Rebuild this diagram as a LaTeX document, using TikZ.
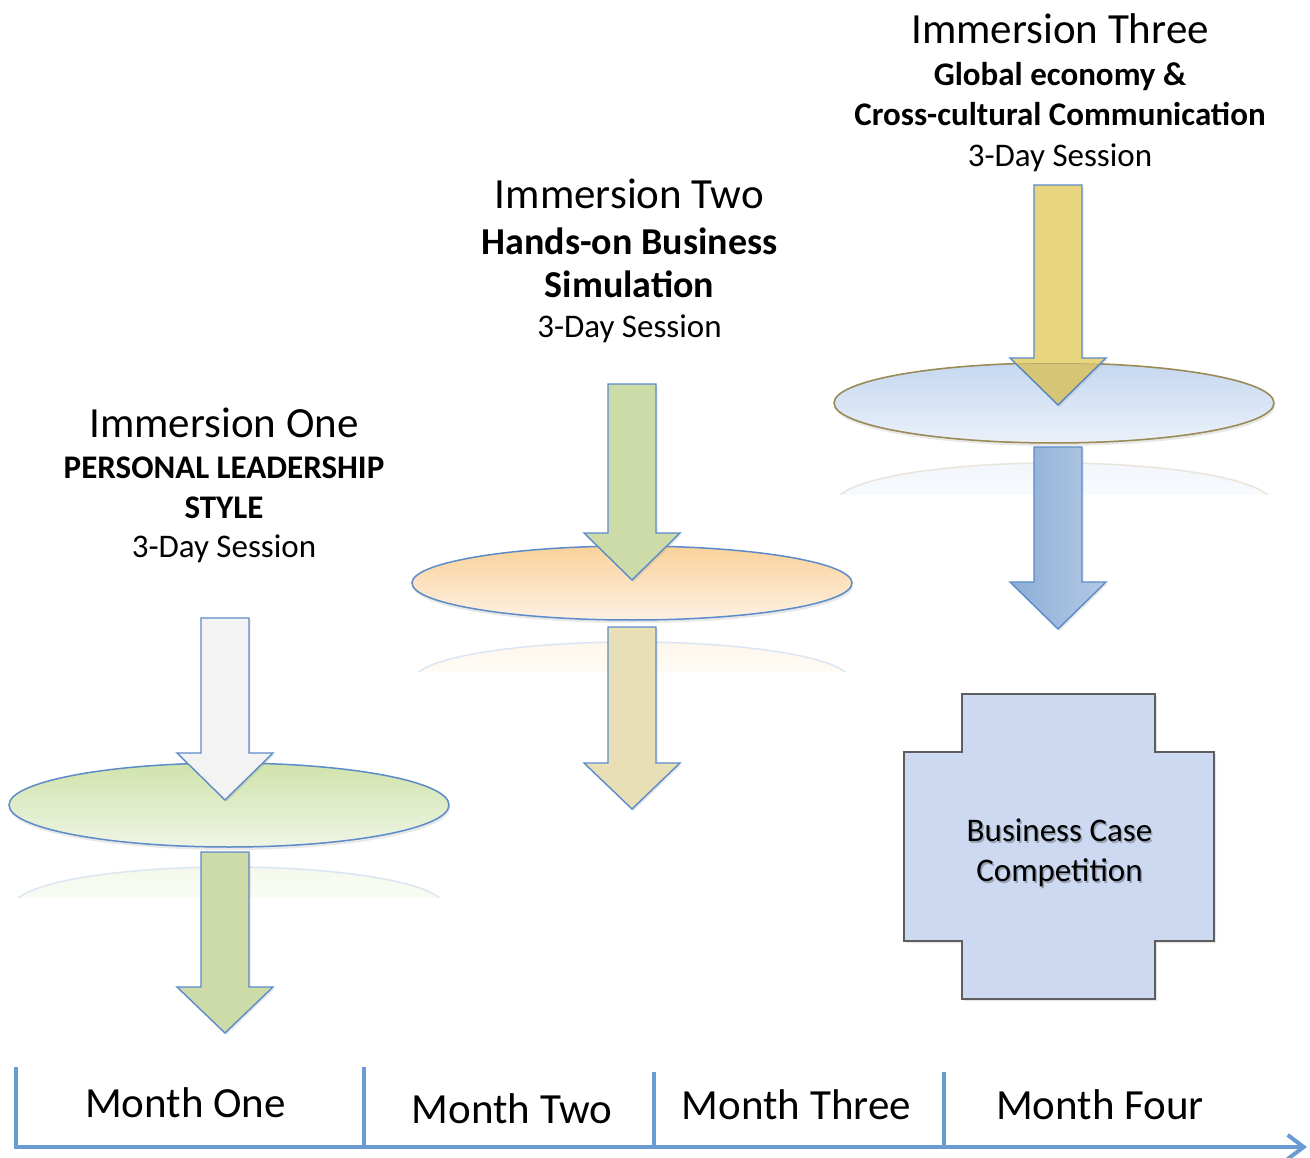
\documentclass[tikz,border=0pt]{standalone}
\usepackage{fontspec}
\setmainfont{Carlito}
\usetikzlibrary{arrows.meta,shadows}

\definecolor{lineblue}{HTML}{5B8BC9}
\definecolor{axisblue}{HTML}{6A9BD2}
\definecolor{olivegold}{HTML}{9A8A55}
\definecolor{palegray}{HTML}{F3F3F3}
\definecolor{sage}{HTML}{CCDBA8}
\definecolor{sand}{HTML}{E8DFB2}
\definecolor{straw}{HTML}{E8D580}
\definecolor{steelA}{HTML}{8DAED6}
\definecolor{steelB}{HTML}{B3C9E5}
\definecolor{greentop}{HTML}{D0E3AB}
\definecolor{greenbot}{HTML}{EFF5E6}
\definecolor{orangetop}{HTML}{FAD29A}
\definecolor{orangebot}{HTML}{FDF1E4}
\definecolor{bluetop}{HTML}{C5D8F0}
\definecolor{bluebot}{HTML}{EBF1FA}
\definecolor{crossfill}{HTML}{CDD9F0}
\definecolor{crossline}{HTML}{5E5E5E}

\tikzset{
  blockarrow/.style={draw=lineblue, line width=1.4pt, line join=miter,
    drop shadow={opacity=0.18, shadow xshift=1.5pt, shadow yshift=-2pt}},
  disc/.style={line width=1.5pt,
    drop shadow={opacity=0.18, shadow xshift=1pt, shadow yshift=-3pt}},
  glint/.style={line width=1.5pt, shading=axis, bottom color=white},
  immhead/.style={anchor=base, font=\fontsize{43}{50}\selectfont},
  topic/.style={anchor=base, font=\bfseries\fontsize{33}{40}\selectfont},
  bigtopic/.style={anchor=base, font=\bfseries\fontsize{38}{46}\selectfont},
  session/.style={anchor=base, font=\fontsize{33}{40}\selectfont},
  month/.style={anchor=base, font=\fontsize{43}{50}\selectfont},
  monthtick/.style={draw=axisblue, line width=4pt},
}

\begin{document}
\begin{tikzpicture}[x=1pt,y=-1pt]
\useasboundingbox (0,0) rectangle (1310,1158);
\fill[white] (0,0) rectangle (1310,1158);

% immersion one
\node[immhead] (imm1) at (224,437) {Immersion One};
\node[topic] (imm1a) at (224,478) {PERSONAL LEADERSHIP};
\node[topic] (imm1b) at (224,518) {STYLE};
\node[session] (imm1c) at (224,557) {3-Day Session};
\begin{scope}
\clip (0,860) rectangle (460,897);
\draw[glint, draw=lineblue!22, top color=greentop!22] (229,906) ellipse [x radius=215pt, y radius=39pt];
\end{scope}
\draw[blockarrow, fill=sage] (201,852) -- (249,852) -- (249,987) -- (273,987) -- (225,1033) -- (177,987) -- (201,987) -- cycle;
\draw[disc, draw=lineblue, top color=greentop, bottom color=greenbot] (229,805) ellipse [x radius=220pt, y radius=42pt];
\draw[blockarrow, fill=palegray] (201,618) -- (249,618) -- (249,753) -- (273,753) -- (225,800) -- (177,753) -- (201,753) -- cycle;

% immersion two
\node[immhead] (imm2) at (629.5,209) {Immersion Two};
\node[bigtopic] (imm2a) at (629.5,255) {Hands-on Business};
\node[bigtopic] (imm2b) at (629.5,298) {Simulation};
\node[session] (imm2c) at (629.5,338) {3-Day Session};
\begin{scope}
\clip (400,636) rectangle (860,671);
\draw[glint, draw=lineblue!22, top color=orangetop!18] (632,680) ellipse [x radius=218pt, y radius=38pt];
\end{scope}
\draw[blockarrow, fill=sand, fill opacity=0.9] (608,627) -- (656,627) -- (656,763) -- (680,763) -- (632,809) -- (584,763) -- (608,763) -- cycle;
\draw[disc, draw=lineblue, top color=orangetop, bottom color=orangebot] (632,583) ellipse [x radius=220pt, y radius=37pt];
\draw[blockarrow, fill=sage] (608,384) -- (656,384) -- (656,533) -- (680,533) -- (632,580) -- (584,533) -- (608,533) -- cycle;

% immersion three
\node[immhead] (imm3) at (1060,44) {Immersion Three};
\node[topic] (imm3a) at (1060,86) {Global economy \&};
\node[topic] (imm3b) at (1060,126) {Cross-cultural Communication};
\node[session] (imm3c) at (1060,167) {3-Day Session};
\begin{scope}
\clip (820,456) rectangle (1290,494);
\draw[glint, draw=olivegold!22, top color=bluetop!22] (1054,503) ellipse [x radius=218pt, y radius=40pt];
\end{scope}
\draw[blockarrow, left color=steelA, right color=steelB] (1034,447) -- (1082,447) -- (1082,582) -- (1106,582) -- (1058,629) -- (1010,582) -- (1034,582) -- cycle;
\draw[disc, draw=olivegold, top color=bluetop, bottom color=bluebot] (1054,403) ellipse [x radius=220pt, y radius=40pt];
\draw[blockarrow, fill=straw] (1034,185) -- (1082,185) -- (1082,358) -- (1106,358) -- (1058,405) -- (1010,358) -- (1034,358) -- cycle;
\begin{scope}
\clip (1054,403) ellipse [x radius=220pt, y radius=40pt];
\fill[black, opacity=0.07] (1034,185) -- (1082,185) -- (1082,358) -- (1106,358) -- (1058,405) -- (1010,358) -- (1034,358) -- cycle;
\draw[olivegold, line width=1.5pt, opacity=0.5] (1054,403) ellipse [x radius=220pt, y radius=40pt];
\end{scope}

% case competition
\draw[line width=1.5pt, draw=crossline, fill=crossfill, drop shadow={opacity=0.2, shadow xshift=2pt, shadow yshift=-2pt}]
  (962,694) -- (1155,694) -- (1155,752) -- (1214,752) -- (1214,941) -- (1155,941) -- (1155,999)
  -- (962,999) -- (962,941) -- (904,941) -- (904,752) -- (962,752) -- cycle;
\node[session, text=black, opacity=0.25] at (1061,843) {Business Case};
\node[session, text=black, opacity=0.25] at (1061,883) {Competition};
\node[session] (case) at (1059.5,841) {Business Case};
\node[session] (comp) at (1059.5,881) {Competition};

% timeline
\coordinate (m0) at (16,1147);
\coordinate (m1) at (364,1147);
\coordinate (m2) at (654,1147);
\coordinate (m3) at (944,1147);
\coordinate (tend) at (1307,1147);
\draw[monthtick] (m0) -- ++(0,-80);
\draw[monthtick] (m1) -- ++(0,-80);
\draw[monthtick] (m2) -- ++(0,-75);
\draw[monthtick] (m3) -- ++(0,-75);
\draw[axisblue, line width=4pt, -{Straight Barb[length=16pt,width=24pt]}] (14,1147) -- (tend);
\node[month] (mon1) at (185.5,1117) {Month One};
\node[month] (mon2) at (512,1123) {Month Two};
\node[month] (mon3) at (796.5,1119) {Month Three};
\node[month] (mon4) at (1100,1119) {Month Four};
\end{tikzpicture}
\end{document}
